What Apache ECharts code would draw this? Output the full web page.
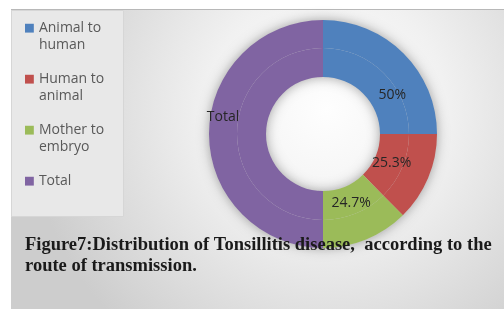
<!DOCTYPE html>
<html>
<head>
<meta charset="utf-8">
<script src="https://cdn.jsdelivr.net/npm/echarts@6/dist/echarts.min.js"></script>
<style>
  html, body { margin: 0; padding: 0; background: #fff; }
  #chart { width: 504px; height: 309px; }
</style>
</head>
<body>
<div id="chart"></div>
<script>
// route of transmission
const categories = ['Animal to human', 'Human to animal', 'Mother to embryo', 'Total'];
const values = [50, 25.3, 24.7, 100];
const colors = ['#4f81bd', '#c0504d', '#9bbb59', '#8064a2'];
const titleLines = [
  'Figure7:Distribution of Tonsillitis disease,  according to the',
  'route of transmission.'
];

const chart = echarts.init(document.getElementById('chart'));

const labelFont = { fontFamily: 'Open Sans', fontSize: 14, color: '#262626' };

// 内环显示百分比，外环只显示 Total
const innerData = categories.map((name, i) => ({
  name,
  value: values[i],
  label: i === 0
    ? { show: true, lineHeight: 27, padding: [0, 0, 0, 33] }
    : { show: i < 3 }
}));
const outerData = categories.map((name, i) => ({
  name,
  value: values[i],
  label: i === 3 ? { show: true, lineHeight: 34, padding: [0, 0, 0, 6] } : { show: false }
}));

const center = [323, 134];

const option = {
  animation: false,
  color: colors,
  graphic: [
    {
      type: 'rect', z: -10, silent: true,
      shape: { x: 11, y: 10, width: 493, height: 299 },
      style: {
        fill: {
          type: 'radial', x: 0.64, y: 0.33, r: 1.0,
          colorStops: [
            { offset: 0, color: '#fefefe' },
            { offset: 0.4, color: '#f1f1f1' },
            { offset: 1, color: '#cdcdcd' }
          ]
        }
      }
    },
    {
      type: 'line', z: -9, silent: true,
      shape: { x1: 11, y1: 9.5, x2: 504, y2: 9.5 },
      style: { stroke: '#b8b8b8', lineWidth: 1 }
    },
    {
      type: 'rect', z: -8, silent: true,
      shape: { x: 11.5, y: 10.5, width: 112, height: 206 },
      style: { fill: '#e8e8e8', stroke: '#d6d6d6', lineWidth: 1 }
    }
  ],
  title: {
    text: titleLines.join('\n'),
    left: 25,
    top: 235,
    padding: 0,
    textStyle: {
      fontFamily: 'Liberation Serif',
      fontSize: 18.5,
      fontWeight: 'bold',
      lineHeight: 21,
      color: '#1a1a1a'
    }
  },
  legend: {
    orient: 'vertical',
    left: 25,
    top: 20,
    padding: 0,
    itemGap: 17,
    itemWidth: 9,
    itemHeight: 30,
    icon: 'path://M0,2h10v10h-10z M0,0 M0,34',
    data: categories,
    formatter: name => name.indexOf(' to ') >= 0 ? name.replace(' to ', ' to\n') : name + '\n ',
    textStyle: {
      fontFamily: 'Open Sans',
      fontSize: 14,
      lineHeight: 17,
      color: '#595959'
    }
  },
  series: [
    {
      // 阴影底环
      type: 'pie',
      silent: true,
      center,
      radius: [57, 114],
      z: 1,
      label: { show: false },
      itemStyle: { color: '#cfcfcf', shadowBlur: 12, shadowColor: 'rgba(0,0,0,0.35)' },
      data: [{ name: '', value: values.reduce((a, b) => a + b, 0) }]
    },
    {
      type: 'pie',
      center,
      radius: [57, 86],
      startAngle: 90,
      avoidLabelOverlap: false,
      z: 2,
      label: {
        position: 'inside',
        formatter: p => (p.dataIndex === 0 ? '\n' : '') + p.value + '%',
        ...labelFont
      },
      labelLine: { show: false },
      emphasis: { disabled: true },
      itemStyle: { borderWidth: 0 },
      data: innerData
    },
    {
      type: 'pie',
      center,
      radius: [86, 114],
      startAngle: 90,
      avoidLabelOverlap: false,
      z: 2,
      label: {
        position: 'inside',
        formatter: p => p.name + '\n',
        ...labelFont
      },
      labelLine: { show: false },
      emphasis: { disabled: true },
      itemStyle: { borderWidth: 0 },
      data: outerData
    }
  ]
};

chart.setOption(option);
</script>
</body>
</html>
